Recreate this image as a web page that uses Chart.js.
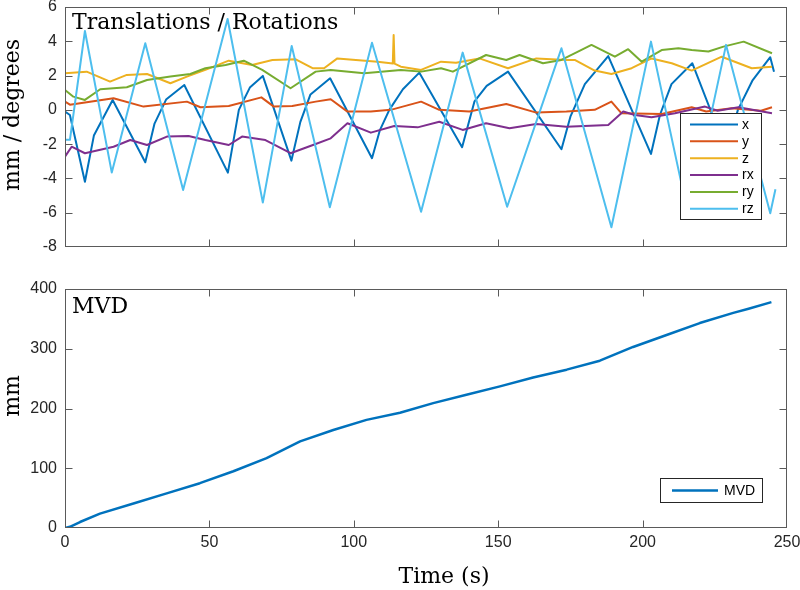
<!DOCTYPE html>
<html><head><meta charset="utf-8">
<script src="https://cdn.jsdelivr.net/npm/chart.js@4.4.1/dist/chart.umd.min.js"></script>
<style>
html,body{margin:0;padding:0;background:#fff;}
#wrap{position:relative;width:800px;height:590px;background:#fff;}
.cv{position:absolute;left:0;}
</style></head><body>
<div id="wrap">
<canvas id="c1" class="cv" width="800" height="258" style="top:0"></canvas>
<canvas id="c2" class="cv" width="800" height="332" style="top:258px"></canvas>
</div>
<script>
// ---------- data ----------
const xTicks = [0, 50, 100, 150, 200, 250];
const topYTicks = [-8, -6, -4, -2, 0, 2, 4, 6];
const botYTicks = [0, 100, 200, 300, 400];

const seriesNames = ['x', 'y', 'z', 'rx', 'ry', 'rz'];

const tX = [0,1.7,6.9,10,16.5,27.8,31,35,41.3,56.4,60.2,64,68.5,78.4,81.5,85,91.8,106.3,109,112.3,117,122.7,137.5,141.8,146,153.4,171.9,175,180,188.1,202.9,206,210,217.2,229,233,238,244.2,245.5];
const vX = [-0.1,-0.3,-4.19,-1.5,0.58,-3.06,-0.8,0.6,1.45,-3.66,0,1.3,1.98,-2.96,-0.7,0.9,1.84,-2.82,-1.2,0,1.2,2.17,-2.18,0.5,1.4,2.23,-2.3,-0.4,1.5,3.14,-2.57,-0.3,1.5,2.72,-2.4,0,1.7,3.07,2.23];

const tY = [0,1.7,16.8,27.2,42.2,46.9,56.7,68,72.3,78.7,86.8,92,97.8,105.9,112.8,123.3,129.6,140,152.8,163.2,173.6,183.4,189.2,192.7,206.6,217,222,230.9,241,244.8];
const vY = [0.48,0.3,0.68,0.19,0.48,0.15,0.23,0.73,0.19,0.23,0.48,0.62,-0.1,-0.1,0,0.48,0,-0.1,0.34,-0.16,-0.1,0,0.48,-0.2,-0.24,0.15,-0.1,0.1,-0.05,0.15];

const tZ = [0,7.5,15.6,21.4,28.4,36.5,42.2,48.6,56.7,64.8,71.8,79.9,85.7,89.7,94.3,108.2,113.5,113.8,114.1,116.3,123.3,130.2,135.4,143.5,153.4,163.2,173.6,176.5,183.4,189.2,196.2,203.1,210.1,217,227.4,237.8,244.8];
const vZ = [2.13,2.23,1.65,2.04,2.09,1.55,1.94,2.33,2.87,2.62,2.91,2.95,2.43,2.43,3.0,2.81,2.7,4.37,2.7,2.52,2.33,2.81,2.75,3.0,2.43,3.0,2.91,2.91,2.29,2.09,2.43,3.0,2.72,2.29,3.1,2.43,2.52];

const tRX = [0,2.3,6.9,16.8,22.6,28.4,35.3,42.8,48.6,56.7,61.3,69.4,78.1,86.8,92,97.8,105.9,114,122.1,129.6,137.7,145.8,153.9,163.2,173.6,188.1,193.3,197.3,203.1,211.2,221.6,226,233.2,244.8];
const vRX = [-2.73,-2.15,-2.53,-2.15,-1.76,-2.05,-1.56,-1.52,-1.76,-2.05,-1.56,-1.76,-2.53,-1.99,-1.66,-0.78,-1.33,-0.94,-1.02,-0.69,-1.17,-0.78,-1.07,-0.82,-0.98,-0.88,-0.1,-0.3,-0.43,-0.2,0.19,-0.05,0.15,-0.2];

const tRY = [0,2.9,6.9,12.2,21.4,28.4,36.5,43.4,48.6,55.6,61.9,68.3,78.1,86.8,92,103.6,116.3,123.3,130.2,134.3,145.8,152.8,157.4,165.5,171.9,182.3,190.4,195,199.7,206.6,212.4,217,222.8,228,235,244.8];
const vRY = [1.16,0.77,0.58,1.2,1.32,1.74,1.94,2.09,2.43,2.62,2.87,2.33,1.26,2.23,2.33,2.13,2.33,2.23,2.43,2.23,3.2,2.91,3.2,2.72,2.91,3.79,3.1,3.54,2.81,3.49,3.59,3.49,3.4,3.69,3.98,3.3];

const tRZ = [0,1.7,6.9,16.2,27.8,40.9,56.3,68.5,78.5,91.7,106.3,123.3,137.7,153.1,171.9,189.2,202.9,216,228.9,244.2,246];
const vRZ = [-1.75,-1.75,4.6,-3.66,3.89,-4.67,5.3,-5.41,3.73,-5.68,3.92,-5.94,3.34,-5.65,3.59,-6.85,3.98,-6.3,3.79,-6.03,-4.63];

const tMVD = [0,1.7,5.2,12.1,23.7,35.2,46.7,58.3,69.8,81.4,92.9,104.4,116,127.5,139,150.6,162.1,173.7,185.2,196.7,208.3,219.8,231.4,236.7,244.6];
const vMVD = [0,2,10,24,41,58,75,95,117,145,164,181,193,209,223,237,252,265,280,303,323,343,360,367,378];

const topTitle = 'Translations / Rotations';
const topYTitle = 'mm / degrees';
const botTitle = 'MVD';
const botYTitle = 'mm';
const xTitle = 'Time (s)';
const mvdLabel = 'MVD';

// ---------- styling ----------
const colors = ['#0072BD', '#D95319', '#EDB120', '#7E2F8E', '#77AC30', '#4DBEEE'];
const axisColor = '#262626';
const sansFam = '"Liberation Sans", Arial, Helvetica, sans-serif';
const serifFam = '"DejaVu Serif", "Liberation Serif", serif';

function pts(t, v) { return t.map((tt, i) => ({x: tt, y: v[i]})); }

const frame = {
  id: 'frame',
  afterDatasetsDraw(chart, args, o) {
    const {ctx, chartArea: a, scales: {x, y}} = chart;
    ctx.save();
    const L = Math.round(a.left) + 0.5, R = Math.round(a.right) - 0.5;
    const T = Math.round(a.top) + 0.5, B = Math.round(a.bottom) - 0.5;
    ctx.strokeStyle = '#5a5a5a';
    ctx.lineWidth = 1;
    ctx.beginPath();
    const tl = 7;
    x.ticks.forEach(t => {
      const p = Math.round(x.getPixelForValue(t.value)) + 0.5;
      if (p <= L + 1 || p >= R - 1) return;
      ctx.moveTo(p, B); ctx.lineTo(p, B - tl);
      ctx.moveTo(p, T); ctx.lineTo(p, T + tl);
    });
    y.ticks.forEach(t => {
      const p = Math.round(y.getPixelForValue(t.value)) + 0.5;
      if (p <= T + 1 || p >= B - 1) return;
      ctx.moveTo(L, p); ctx.lineTo(L + tl, p);
      ctx.moveTo(R, p); ctx.lineTo(R - tl, p);
    });
    ctx.stroke();
    ctx.strokeRect(L, T, R - L, B - T);

    // in-plot title
    ctx.fillStyle = '#000';
    ctx.font = '22px ' + serifFam;
    ctx.textAlign = 'left';
    ctx.textBaseline = 'alphabetic';
    ctx.fillText(o.title, o.titleX, o.titleY);

    // y axis title (rotated)
    ctx.save();
    ctx.translate(o.yTitleX, o.yTitleY);
    ctx.rotate(-Math.PI / 2);
    ctx.textAlign = 'center';
    ctx.fillText(o.yTitle, 0, 0);
    ctx.restore();

    // x axis title
    if (o.xTitle) {
      ctx.textAlign = 'center';
      ctx.fillText(o.xTitle, o.xTitleX, o.xTitleY);
    }

    // legend box
    const lg = o.legend;
    ctx.fillStyle = '#fff';
    ctx.fillRect(lg.x, lg.y, lg.w, lg.h);
    ctx.strokeStyle = axisColor;
    ctx.strokeRect(lg.x, lg.y, lg.w, lg.h);
    ctx.font = '14px ' + sansFam;
    ctx.textAlign = 'left';
    ctx.textBaseline = 'middle';
    chart.data.datasets.forEach((ds, i) => {
      const yy = lg.first + i * lg.rowH;
      ctx.strokeStyle = ds.borderColor;
      ctx.lineWidth = ds.borderWidth;
      ctx.beginPath();
      ctx.moveTo(lg.x0, yy); ctx.lineTo(lg.x1, yy);
      ctx.stroke();
      ctx.fillStyle = '#000';
      ctx.fillText(ds.label, lg.tx, yy + 0.5);
    });
    ctx.restore();
  }
};

function yAxisCommon(min, max, step) {
  return {
    type: 'linear', min: min, max: max,
    ticks: {stepSize: step, color: axisColor, font: {family: sansFam, size: 16}, padding: 8},
    grid: {display: false, drawTicks: false},
    border: {display: false},
    afterFit(s) { s.width = 65; s.paddingTop = 0; s.paddingBottom = 0; }
  };
}

// ---------- top chart ----------
const topSeries = [[tX, vX], [tY, vY], [tZ, vZ], [tRX, vRX], [tRY, vRY], [tRZ, vRZ]];
new Chart(document.getElementById('c1'), {
  type: 'line',
  data: {
    datasets: topSeries.map((s, i) => ({
      label: seriesNames[i],
      data: pts(s[0], s[1]),
      borderColor: colors[i],
      backgroundColor: colors[i],
      borderWidth: 2,
      pointRadius: 0,
      tension: 0,
      fill: false,
      borderJoinStyle: 'round',
      order: 6 - i
    }))
  },
  options: {
    responsive: false, animation: false, devicePixelRatio: 1,
    layout: {padding: {left: 0, right: 13, top: 7, bottom: 0}},
    plugins: {
      legend: {display: false}, tooltip: {enabled: false},
      frame: {
        title: topTitle, titleX: 72, titleY: 29,
        yTitle: topYTitle, yTitleX: 18.5, yTitleY: 115,
        legend: {x: 680.5, y: 113.5, w: 81, h: 106, x0: 690, x1: 738, tx: 742, first: 124.5, rowH: 16.85}
      }
    },
    scales: {
      x: {
        type: 'linear', min: 0, max: 250,
        ticks: {display: false, stepSize: 50},
        grid: {display: false, drawTicks: false},
        border: {display: false},
        afterBuildTicks(s) { s.ticks = xTicks.map(v => ({value: v})); },
        afterFit(s) { s.height = 11; s.paddingLeft = 0; s.paddingRight = 0; }
      },
      y: Object.assign(yAxisCommon(-8, 6, 2), {
        afterBuildTicks(s) { s.ticks = topYTicks.map(v => ({value: v})); }
      })
    }
  },
  plugins: [frame]
});

// ---------- bottom chart ----------
new Chart(document.getElementById('c2'), {
  type: 'line',
  data: {
    datasets: [{
      label: mvdLabel,
      data: pts(tMVD, vMVD),
      borderColor: '#0072BD',
      backgroundColor: '#0072BD',
      borderWidth: 2.5,
      pointRadius: 0,
      tension: 0,
      fill: false,
      borderJoinStyle: 'round'
    }]
  },
  options: {
    responsive: false, animation: false, devicePixelRatio: 1,
    layout: {padding: {left: 0, right: 13, top: 31, bottom: 0}},
    plugins: {
      legend: {display: false}, tooltip: {enabled: false},
      frame: {
        title: botTitle, titleX: 72, titleY: 55,
        yTitle: botYTitle, yTitleX: 18.5, yTitleY: 138,
        xTitle: xTitle, xTitleX: 444, xTitleY: 325,
        legend: {x: 660.5, y: 220.5, w: 102, h: 24, x0: 672, x1: 718, tx: 724, first: 232.5, rowH: 17}
      }
    },
    scales: {
      x: {
        type: 'linear', min: 0, max: 250,
        ticks: {stepSize: 50, color: axisColor, font: {family: sansFam, size: 16}, padding: 5, maxRotation: 0},
        grid: {display: false, drawTicks: false},
        border: {display: false},
        afterBuildTicks(s) { s.ticks = xTicks.map(v => ({value: v})); },
        afterFit(s) { s.height = 62; s.paddingLeft = 0; s.paddingRight = 0; }
      },
      y: Object.assign(yAxisCommon(0, 400, 100), {
        afterBuildTicks(s) { s.ticks = botYTicks.map(v => ({value: v})); }
      })
    }
  },
  plugins: [frame]
});
</script>
</body></html>
